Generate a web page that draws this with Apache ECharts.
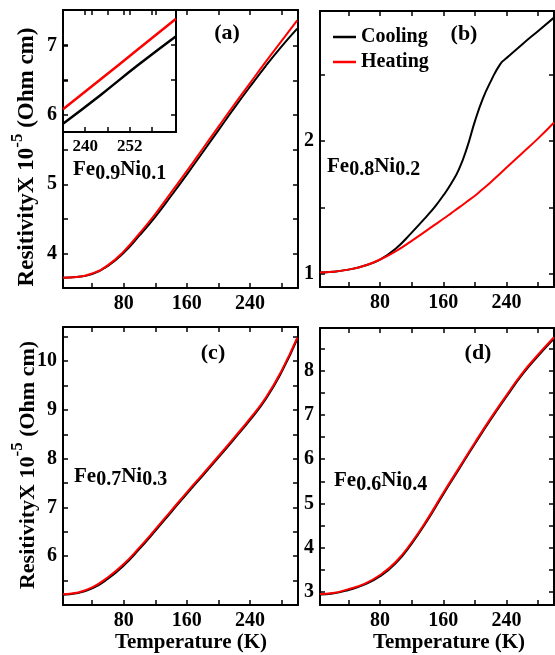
<!DOCTYPE html>
<html>
<head>
<meta charset="utf-8">
<script src="https://cdn.jsdelivr.net/npm/echarts@6/dist/echarts.min.js"></script>
<style>
html, body { margin: 0; padding: 0; background: #fff; }
#chart { width: 555px; height: 655px; }
</style>
</head>
<body>
<div id="chart"></div>
<script>
// (a) Fe0.9Ni0.1
var tempA = [3, 20, 40, 60, 80, 100, 120, 140, 160, 180, 200, 220, 240, 260, 280, 300];
var coolA = [3.65, 3.66, 3.70, 3.82, 4.01, 4.26, 4.53, 4.83, 5.14, 5.46, 5.78, 6.10, 6.41, 6.71, 6.99, 7.25];
var heatA = [3.65, 3.66, 3.71, 3.83, 4.03, 4.29, 4.57, 4.88, 5.19, 5.51, 5.83, 6.15, 6.46, 6.77, 7.07, 7.37];
// inset of (a)
var tempIn = [234, 244, 254, 264.5];
var coolIn = [6.348, 6.51, 6.68, 6.85];
var heatIn = [6.43, 6.60, 6.77, 6.95];
// (b) Fe0.8Ni0.2
var tempB = [4, 20, 40, 60, 80, 100, 120, 140, 150, 160, 170, 180, 190, 200, 210, 220, 232, 240, 260, 280, 300];
var coolB = [1.01, 1.015, 1.031, 1.06, 1.107, 1.19, 1.31, 1.44, 1.51, 1.59, 1.68, 1.79, 1.95, 2.15, 2.32, 2.45, 2.58, 2.625, 2.73, 2.83, 2.93];
var heatB = [1.01, 1.015, 1.031, 1.06, 1.107, 1.17, 1.248, 1.33, 1.372, 1.414, 1.457, 1.50, 1.544, 1.588, 1.639, 1.69, 1.756, 1.80, 1.91, 2.02, 2.14];
// (c) Fe0.7Ni0.3
var tempC = [3, 20, 40, 60, 80, 100, 120, 140, 160, 180, 200, 220, 240, 260, 280, 300];
var coolC = [5.21, 5.24, 5.34, 5.54, 5.81, 6.15, 6.52, 6.90, 7.28, 7.65, 8.02, 8.40, 8.79, 9.22, 9.77, 10.45];
var heatC = [5.22, 5.25, 5.36, 5.57, 5.84, 6.18, 6.55, 6.93, 7.31, 7.68, 8.05, 8.43, 8.82, 9.25, 9.80, 10.48];
// (d) Fe0.6Ni0.4
var tempD = [4, 20, 40, 60, 80, 100, 120, 140, 160, 180, 200, 220, 240, 260, 280, 300];
var coolD = [2.94, 2.96, 3.04, 3.16, 3.35, 3.65, 4.09, 4.62, 5.21, 5.78, 6.35, 6.90, 7.42, 7.92, 8.34, 8.73];
var heatD = [2.95, 2.97, 3.06, 3.18, 3.38, 3.68, 4.12, 4.65, 5.24, 5.81, 6.38, 6.93, 7.45, 7.95, 8.37, 8.76];

var tTicks = [40, 80, 120, 160, 200, 240, 280];
var tLabels = [80, 160, 240];

var font = 'Liberation Serif';
var chart = echarts.init(document.getElementById('chart'));

function pairs(xs, ys) {
    return xs.map(function (x, i) { return [x, ys[i]]; });
}

function xAx(gi, min, max, ticks, labels, top, size) {
    return {
        type: 'value', gridIndex: gi, min: min, max: max,
        position: top ? 'top' : 'bottom',
        splitLine: { show: false },
        axisLine: { onZero: false, lineStyle: { color: '#000', width: 2 } },
        axisTick: { inside: true, length: 5, customValues: ticks, lineStyle: { color: '#000', width: 1.5 } },
        axisLabel: { show: !top, customValues: labels, margin: 6, color: '#000',
            fontFamily: font, fontWeight: 'bold', fontSize: size || 20 }
    };
}

function yAx(gi, min, max, ticks, labels, right) {
    return {
        type: 'value', gridIndex: gi, min: min, max: max,
        position: right ? 'right' : 'left',
        splitLine: { show: false },
        axisLine: { onZero: false, lineStyle: { color: '#000', width: 2 } },
        axisTick: { inside: true, length: 5, customValues: ticks, lineStyle: { color: '#000', width: 1.5 } },
        axisLabel: { show: !right && labels.length > 0, customValues: labels, margin: 6, color: '#000',
            fontFamily: font, fontWeight: 'bold', fontSize: 20 }
    };
}

function line(name, gi, xs, ys, color, w) {
    return {
        name: name, type: 'line', xAxisIndex: gi, yAxisIndex: gi,
        data: pairs(xs, ys), showSymbol: false, smooth: 0.5,
        lineStyle: { color: color, width: w || 2 }, itemStyle: { color: color }
    };
}

var ticksA = [4, 4.5, 5, 5.5, 6, 6.5, 7];
var ticksB = [1, 1.5, 2, 2.5];
var ticksC = [5.5, 6, 6.5, 7, 7.5, 8, 8.5, 9, 9.5, 10, 10.5];
var ticksD = [3, 3.5, 4, 4.5, 5, 5.5, 6, 6.5, 7, 7.5, 8, 8.5];
var ticksIn = [240, 246, 252, 258];

var xs = [
    xAx(0, 3, 301, tTicks, tLabels),
    xAx(1, 4, 300, tTicks, tLabels),
    xAx(2, 3, 301, tTicks, tLabels),
    xAx(3, 4, 300, tTicks, tLabels),
    xAx(4, 234, 264.5, ticksIn, [240, 252], false, 17)
];
xs = xs.concat([
    xAx(0, 3, 301, tTicks, [], true),
    xAx(1, 4, 300, tTicks, [], true),
    xAx(2, 3, 301, tTicks, [], true),
    xAx(3, 4, 300, tTicks, [], true),
    xAx(4, 234, 264.5, ticksIn, [], true)
]);
var ys = [
    yAx(0, 3.5, 7.52, ticksA, [4, 5, 6, 7]),
    yAx(1, 0.9, 2.98, ticksB, [1, 2]),
    yAx(2, 5, 10.7, ticksC, [6, 7, 8, 9, 10]),
    yAx(3, 2.7, 8.97, ticksD, [3, 4, 5, 6, 7, 8]),
    yAx(4, 6.3, 7.0, [6.4, 6.6, 6.8], [])
];
ys = ys.concat([
    yAx(0, 3.5, 7.52, ticksA, [], true),
    yAx(1, 0.9, 2.98, ticksB, [], true),
    yAx(2, 5, 10.7, ticksC, [], true),
    yAx(3, 2.7, 8.97, ticksD, [], true),
    yAx(4, 6.3, 7.0, [6.4, 6.6, 6.8], [], true)
]);

function yTitle(x, y, size) {
    return {
        type: 'text', x: x, y: y, rotation: Math.PI / 2,
        style: {
            text: '{m|ResitivityX 10}{p|-5}{m| (Ohm cm)}',
            align: 'center', verticalAlign: 'middle', fill: '#000',
            rich: {
                m: { fontFamily: font, fontWeight: 'bold', fontSize: size, lineHeight: 30, verticalAlign: 'bottom', fill: '#000' },
                p: { fontFamily: font, fontWeight: 'bold', fontSize: 17, lineHeight: 30, verticalAlign: 'top', fill: '#000' }
            }
        }
    };
}

function plainText(x, y, text, size) {
    return {
        type: 'text', x: x, y: y,
        style: { text: text, align: 'center', verticalAlign: 'middle', fill: '#000',
            fontFamily: font, fontWeight: 'bold', fontSize: size }
    };
}

function compound(x, y, a, b) {
    return {
        type: 'text', x: x, y: y,
        style: {
            text: '{n|Fe}{s|' + a + '}{n|Ni}{s|' + b + '}',
            align: 'left', verticalAlign: 'middle', fill: '#000',
            rich: {
                n: { fontFamily: font, fontWeight: 'bold', fontSize: 21, lineHeight: 24, verticalAlign: 'top', fill: '#000' },
                s: { fontFamily: font, fontWeight: 'bold', fontSize: 20, lineHeight: 24, verticalAlign: 'bottom', fill: '#000' }
            }
        }
    };
}

var option = {
    backgroundColor: '#fff',
    animation: false,
    grid: [
        { left: 63, top: 10, width: 235, height: 278 },
        { left: 320, top: 11, width: 234, height: 276 },
        { left: 63, top: 327, width: 235, height: 278 },
        { left: 320, top: 328, width: 234, height: 277 },
        { left: 63, top: 10, width: 113, height: 122 }
    ],
    xAxis: xs,
    yAxis: ys,
    legend: {
        data: ['Cooling', 'Heating'],
        orient: 'vertical', left: 328, top: 22,
        icon: 'rect', itemWidth: 23, itemHeight: 2.5, itemGap: 5,
        textStyle: { fontFamily: font, fontWeight: 'bold', fontSize: 20, lineHeight: 20, color: '#000' }
    },
    graphic: [
        yTitle(24, 157, 23),
        yTitle(24, 465, 22),
        plainText(191, 643, 'Temperature (K)', 21),
        plainText(449, 643, 'Temperature (K)', 21),
        plainText(227, 33, '(a)', 22),
        plainText(464, 34, '(b)', 22),
        plainText(213, 353, '(c)', 22),
        plainText(478, 353, '(d)', 22),
        compound(73, 171.5, '0.9', '0.1'),
        compound(327, 168, '0.8', '0.2'),
        compound(74, 478, '0.7', '0.3'),
        compound(334, 482.5, '0.6', '0.4')
    ],
    series: [
        line('cool a', 0, tempA, coolA, '#000'),
        line('heat a', 0, tempA, heatA, '#ff0000'),
        line('cool inset', 4, tempIn, coolIn, '#000', 2.5),
        line('heat inset', 4, tempIn, heatIn, '#ff0000', 2.5),
        line('Cooling', 1, tempB, coolB, '#000'),
        line('Heating', 1, tempB, heatB, '#ff0000'),
        line('cool c', 2, tempC, coolC, '#000'),
        line('heat c', 2, tempC, heatC, '#ff0000'),
        line('cool d', 3, tempD, coolD, '#000'),
        line('heat d', 3, tempD, heatD, '#ff0000')
    ]
};

chart.setOption(option);
</script>
</body>
</html>
